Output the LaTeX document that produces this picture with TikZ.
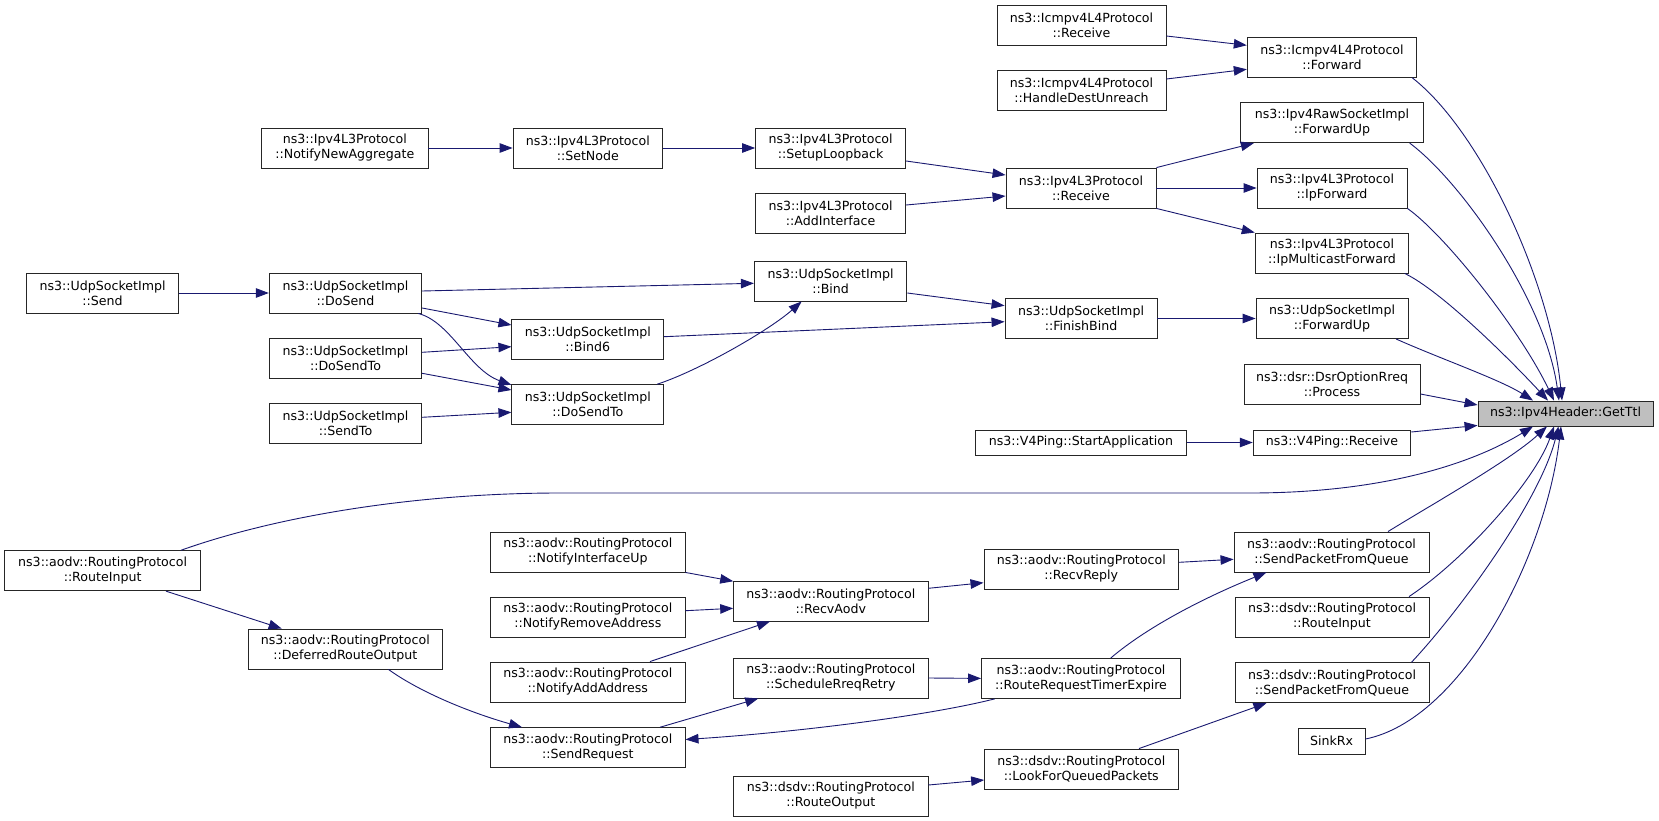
\documentclass[tikz,border=0pt]{standalone}
\usepackage{fontspec}
\setmainfont{DejaVu Sans}
\usetikzlibrary{arrows.meta,calc}
\definecolor{mb}{HTML}{191970}
\definecolor{boxgray}{HTML}{BFBFBF}
\newcommand\dotfont{\fontsize{12.6}{15}\selectfont}
\begin{document}
\begin{tikzpicture}[x=1pt,y=-1pt,
  box/.style={draw=black!85, line width=0.9pt, fill=white, inner sep=0pt, align=center,
              minimum height=40pt, font=\dotfont},
  onebox/.style={box, minimum height=25pt},
  edge/.style={draw=mb, line width=0.9pt, -{Triangle[length=13pt,width=9.5pt]}}]
\useasboundingbox (0,0) rectangle (1659,821);

% right part
\node[onebox, fill=boxgray, minimum width=175pt] (getttl) at (1565.5,413.5) {ns3::Ipv4Header::GetTtl};
\node[box, minimum width=169pt] (icmprecv) at (1081.5,25) {ns3::Icmpv4L4Protocol\\::Receive};
\node[box, minimum width=169pt] (icmphandle) at (1081.5,90.7) {ns3::Icmpv4L4Protocol\\::HandleDestUnreach};
\node[box, minimum width=169.5pt] (icmpfwd) at (1332,57.3) {ns3::Icmpv4L4Protocol\\::Forward};
\node[box, minimum width=182.5pt] (rawfwd) at (1332,122.7) {ns3::Ipv4RawSocketImpl\\::ForwardUp};
\node[box, minimum width=150pt] (l3recv) at (1081,188) {ns3::Ipv4L3Protocol\\::Receive};
\node[box, minimum width=150pt] (ipfwd) at (1332,188) {ns3::Ipv4L3Protocol\\::IpForward};
\node[box, minimum width=153.6pt] (ipmc) at (1332,253) {ns3::Ipv4L3Protocol\\::IpMulticastForward};
\node[box, minimum width=152pt] (finishbind) at (1081,318.5) {ns3::UdpSocketImpl\\::FinishBind};
\node[box, minimum width=152pt] (udpfwd) at (1332,318.5) {ns3::UdpSocketImpl\\::ForwardUp};
\node[box, minimum width=176pt] (dsr) at (1332,384) {ns3::dsr::DsrOptionRreq\\::Process};
\node[onebox, minimum width=211pt] (v4start) at (1081,442.5) {ns3::V4Ping::StartApplication};
\node[onebox, minimum width=157.6pt] (v4recv) at (1332,442.5) {ns3::V4Ping::Receive};
\node[box, minimum width=195pt] (aodvspq) at (1331.5,552) {ns3::aodv::RoutingProtocol\\::SendPacketFromQueue};
\node[box, minimum width=194.7pt] (recvreply) at (1081.3,569) {ns3::aodv::RoutingProtocol\\::RecvReply};
\node[box, minimum width=194pt] (dsdvri) at (1332,617) {ns3::dsdv::RoutingProtocol\\::RouteInput};
\node[box, minimum width=199pt] (rrte) at (1081,678.4) {ns3::aodv::RoutingProtocol\\::RouteRequestTimerExpire};
\node[box, minimum width=194pt] (dsdvspq) at (1332,682.7) {ns3::dsdv::RoutingProtocol\\::SendPacketFromQueue};
\node[box, minimum height=26pt, minimum width=67pt] (sinkrx) at (1331.5,741) {SinkRx};
\node[box, minimum width=193.4pt] (lookfor) at (1081.3,769) {ns3::dsdv::RoutingProtocol\\::LookForQueuedPackets};

% upper left part
\node[box, minimum width=166.4pt] (notifynew) at (344.8,148) {ns3::Ipv4L3Protocol\\::NotifyNewAggregate};
\node[box, minimum width=149.5pt] (setnode) at (587.8,148) {ns3::Ipv4L3Protocol\\::SetNode};
\node[box, minimum width=150pt] (setuploop) at (830.6,148) {ns3::Ipv4L3Protocol\\::SetupLoopback};
\node[box, minimum width=150pt] (addif) at (830.6,213) {ns3::Ipv4L3Protocol\\::AddInterface};
\node[box, minimum width=152.5pt] (bind) at (830.6,281) {ns3::UdpSocketImpl\\::Bind};
\node[box, minimum width=151.8pt] (send) at (102.6,293) {ns3::UdpSocketImpl\\::Send};
\node[box, minimum width=152.4pt] (dosend) at (345.5,293) {ns3::UdpSocketImpl\\::DoSend};
\node[box, minimum width=151.8pt] (bind6) at (587.8,339.7) {ns3::UdpSocketImpl\\::Bind6};
\node[box, minimum width=152.4pt] (dosendtoL) at (345.5,358) {ns3::UdpSocketImpl\\::DoSendTo};
\node[box, minimum width=151.8pt] (dosendtoM) at (587.8,404.7) {ns3::UdpSocketImpl\\::DoSendTo};
\node[box, minimum width=152.4pt] (sendto) at (345.5,423.7) {ns3::UdpSocketImpl\\::SendTo};

% lower left part
\node[box, minimum width=195.8pt] (routeinput) at (102.6,570.7) {ns3::aodv::RoutingProtocol\\::RouteInput};
\node[box, minimum width=194.5pt] (deferred) at (345.3,649) {ns3::aodv::RoutingProtocol\\::DeferredRouteOutput};
\node[box, minimum width=194.5pt] (nifup) at (587.8,552) {ns3::aodv::RoutingProtocol\\::NotifyInterfaceUp};
\node[box, minimum width=194.3pt] (recvaodv) at (830.8,601) {ns3::aodv::RoutingProtocol\\::RecvAodv};
\node[box, minimum width=194.5pt] (nremove) at (587.8,617) {ns3::aodv::RoutingProtocol\\::NotifyRemoveAddress};
\node[box, minimum width=194.5pt] (nadd) at (587.8,682) {ns3::aodv::RoutingProtocol\\::NotifyAddAddress};
\node[box, minimum width=194.3pt] (schedule) at (830.8,678) {ns3::aodv::RoutingProtocol\\::ScheduleRreqRetry};
\node[box, minimum width=194.5pt] (sendreq) at (587.8,747.7) {ns3::aodv::RoutingProtocol\\::SendRequest};
\node[box, minimum width=194.3pt] (dsdvro) at (830.8,796) {ns3::dsdv::RoutingProtocol\\::RouteOutput};

% edges: Icmpv4
\draw[edge] ($(icmprecv.east)+(0,11)$) -- ($(icmpfwd.west)+(0,-12)$);
\draw[edge] ($(icmphandle.east)+(0,-11.7)$) -- ($(icmpfwd.west)+(0,12)$);
% Ipv4L3Protocol::Receive
\draw[edge] (l3recv.north east) -- ($(rawfwd.south west)+(13.5,0)$);
\draw[edge] (l3recv.east) -- (ipfwd.west);
\draw[edge] (l3recv.south east) -- (ipmc.north west);
\draw[edge] ($(setuploop.east)+(0,13)$) -- ($(l3recv.west)+(0,-13)$);
\draw[edge] ($(addif.east)+(0,-8)$) -- ($(l3recv.west)+(0,8)$);
\draw[edge] (notifynew.east) -- (setnode.west);
\draw[edge] (setnode.east) -- (setuploop.west);
% UdpSocketImpl
\draw[edge] (send.east) -- (dosend.west);
\draw[edge] ($(dosend.east)+(0,-2)$) -- ($(bind.west)+(0,2.3)$);
\draw[edge] ($(dosend.east)+(0,15)$) -- ($(bind6.west)+(0,-14.7)$);
\draw[edge] ($(dosend.south east)+(-4,0)$) .. controls +(32,8) and +(-42,-15) .. ($(dosendtoM.north west)+(0,0.7)$);
\draw[edge] ($(dosendtoL.east)+(0,-5.7)$) -- ($(bind6.west)+(0,7)$);
\draw[edge] ($(dosendtoL.east)+(0,15.3)$) -- ($(dosendtoM.west)+(0,-14.7)$);
\draw[edge] ($(sendto.east)+(0,-6.4)$) -- ($(dosendtoM.west)+(0,7.6)$);
\draw[edge] ($(dosendtoM.north east)+(-7,0)$) .. controls +(43.3,-14.3) and +(-31.7,28.3) .. ($(bind.south)+(-29,0)$);
\draw[edge] ($(bind.east)+(0,12)$) -- ($(finishbind.west)+(0,-12.8)$);
\draw[edge] ($(bind6.east)+(0,-3)$) -- ($(finishbind.west)+(0,3.2)$);
\draw[edge] (finishbind.east) -- (udpfwd.west);
% V4Ping, dsr
\draw[edge] (v4start.east) -- (v4recv.west);
\draw[edge] ($(v4recv.east)+(0,-10.5)$) -- ($(getttl.south west)+(0,-1)$);
\draw[edge] ($(dsr.east)+(0,10)$) -- ($(getttl.west)+(0,-8.5)$);
% curves into GetTtl from above
\draw[edge] ($(icmpfwd.south east)+(-5,0)$) .. controls +(68,53) and +(-12,-121) .. ($(getttl.north)+(-3.5,0)$);
\draw[edge] ($(rawfwd.south east)+(-14,0)$) .. controls +(50.5,37.3) and +(-14,-101) .. ($(getttl.north)+(-6.5,0)$);
\draw[edge] (ipfwd.south east) .. controls +(38,27) and +(-34,-71) .. ($(getttl.north)+(-11.5,0)$);
\draw[edge] ($(ipmc.south east)+(-4.6,0)$) .. controls +(36,17) and +(-38,-41) .. ($(getttl.north)+(-17.5,0)$);
\draw[edge] ($(udpfwd.south east)+(-12.5,0)$) .. controls +(45,20) and +(-33,-21) .. ($(getttl.north)+(-32.5,0)$);
% curves into GetTtl from below
\draw[edge] ($(routeinput.north)+(78.4,0)$) .. controls (280,515) and (420,493) .. (560,493) -- (1250,493) .. controls (1380,493) and (1470,465) .. ($(getttl.south)+(-32.5,0)$);
\draw[edge] ($(aodvspq.north)+(56.5,0)$) .. controls +(42,-26) and +(-37,34) .. ($(getttl.south)+(-18.5,0)$);
\draw[edge] ($(dsdvri.north)+(77,0)$) .. controls +(56,-37) and +(-19,54) .. ($(getttl.south)+(-11.5,0)$);
\draw[edge] ($(dsdvspq.north)+(79.5,0)$) .. controls +(48.5,-51.7) and +(-18.5,74) .. ($(getttl.south)+(-7,0)$);
\draw[edge] ($(sinkrx.east)+(0,-2)$) .. controls +(95,-19) and +(-16,134) .. ($(getttl.south)+(-4.5,0)$);
% aodv
\draw[edge] ($(routeinput.south)+(63.4,0)$) -- ($(deferred.north)+(-63.6,0)$);
\draw[edge] ($(deferred.south)+(43.2,0)$) .. controls +(31.5,22.7) and +(-52,-14.7) .. ($(sendreq.north)+(-65.8,0)$);
\draw[edge] (nifup.south east) -- ($(recvaodv.north west)+(0,0.7)$);
\draw[edge] ($(nremove.east)+(0,-6.3)$) -- ($(recvaodv.west)+(0,7.3)$);
\draw[edge] ($(nadd.north)+(62.2,0)$) -- ($(recvaodv.south)+(-60.8,0)$);
\draw[edge] ($(sendreq.north)+(72.2,0)$) -- ($(schedule.south)+(-72.5,0)$);
\draw[edge] ($(rrte.south west)+(13.7,0)$) .. controls +(-65,16.5) and +(114.7,-7.5) .. ($(sendreq.east)+(0,-8.2)$);
\draw[edge] ($(recvaodv.east)+(0,-12.7)$) -- ($(recvreply.west)+(0,13.7)$);
\draw[edge] ($(recvreply.east)+(0,-6.7)$) -- ($(aodvspq.west)+(0,7.3)$);
\draw[edge] ($(rrte.north)+(29.8,0)$) .. controls +(39.2,-33.3) and +(-56.4,22.7) .. ($(aodvspq.south)+(-65.1,0)$);
\draw[edge] (schedule.east) -- (rrte.west);
% dsdv
\draw[edge] ($(lookfor.north)+(57.7,0)$) -- ($(dsdvspq.south)+(-65.6,0)$);
\draw[edge] ($(dsdvro.east)+(0,-11)$) -- ($(lookfor.west)+(0,11)$);
\end{tikzpicture}
\end{document}
